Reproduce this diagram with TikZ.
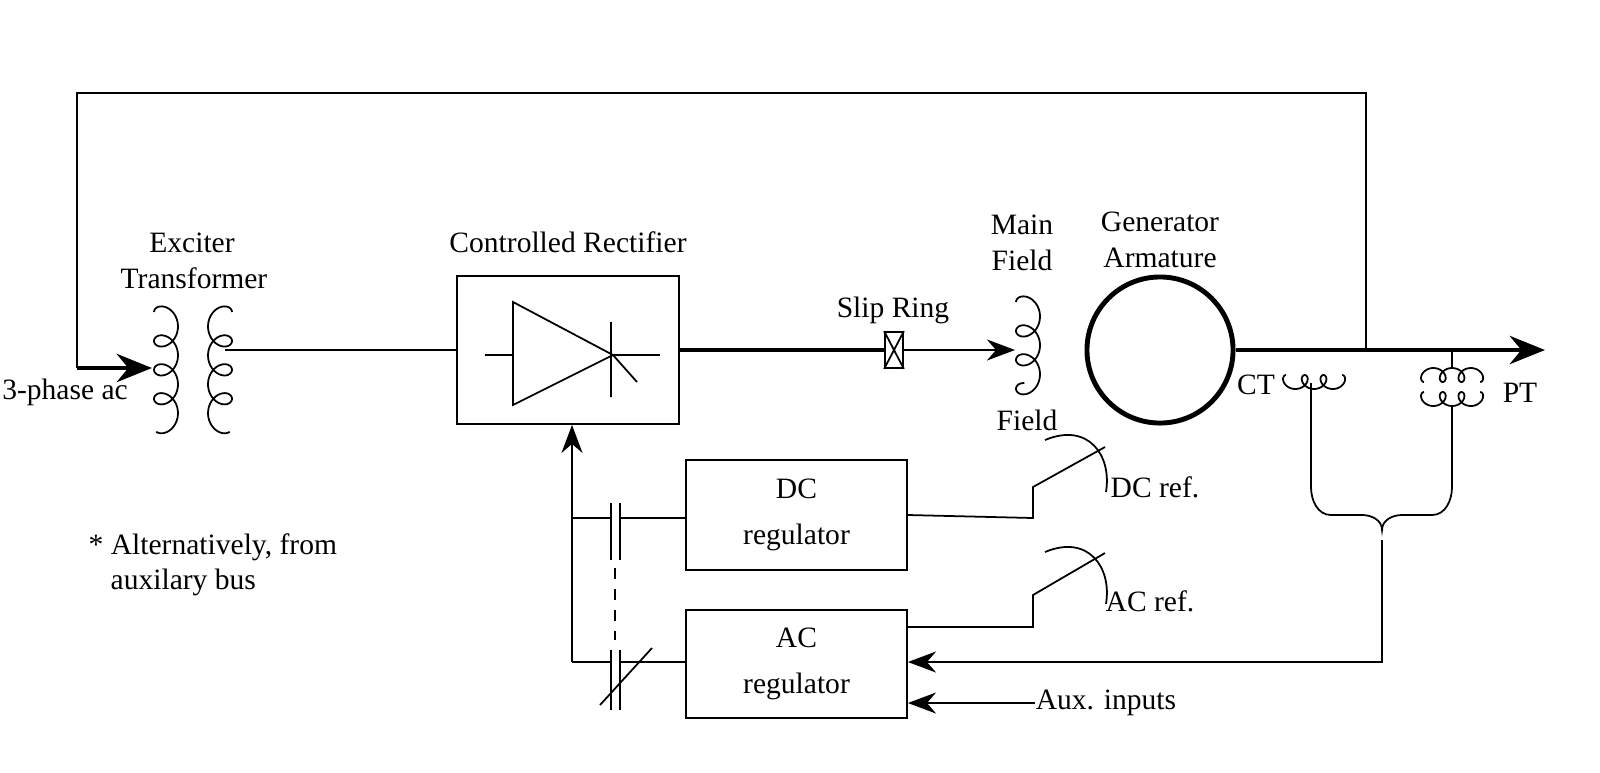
\documentclass[tikz,border=0pt]{standalone}
\usepackage{fontspec}
\setmainfont{Liberation Serif}
\usetikzlibrary{positioning,arrows.meta}
\tikzset{
  lbl/.style={inner sep=0pt,font=\fontsize{8.4}{9}\selectfont},
  blk/.style={draw,line width=0.5pt,inner sep=0pt},
  thick line/.style={line width=1.4pt},
  wire/.style={line width=0.5pt},
}
% vertical coil: x, y top, direction (1 or -1), turns
\newcommand\vcoil[4]{%
  \draw[wire,shift={(#1,#2)},samples=120,domain=0:#4*360]
    plot ({#3*12*cos(\x)},{0.0803*\x-12*sin(\x)});}
% horizontal coil: x left, y, direction, turns
\newcommand\hcoil[4]{%
  \draw[wire,shift={(#1,#2)},samples=90,domain=0:#4*360]
    plot ({0.0520*\x-7*sin(\x)},{#3*7*cos(\x)});}
\begin{document}
\begin{tikzpicture}[x=0.01cm,y=-0.01cm]

    % Define the blocks
    \node[blk,minimum width=2.22cm,minimum height=1.48cm] (rect) at (568,350) {};
    \node[blk,minimum width=2.21cm,minimum height=1.10cm] (dcreg) at (796.5,515) {};
    \node[lbl,align=center] at (dcreg) {DC\\[4pt]regulator};
    \node[blk,minimum width=2.21cm,minimum height=1.08cm] (acreg) at (796.5,664) {};
    \node[lbl,align=center] at (acreg) {AC\\[4pt]regulator};
    \node[draw,circle,line width=1.4pt,minimum size=1.46cm,inner sep=0pt] (gen) at (1160,350) {};
    \node[blk,minimum width=0.18cm,minimum height=0.36cm] (slip) at (894,350) {};
    \draw[wire] (slip.north west) -- (slip.south east) (slip.north east) -- (slip.south west);

    % Labels
    \node[lbl] (extxt) at (192,243) {Exciter};
    \node[lbl] (trtxt) at (194,278) {Transformer};
    \node[lbl] (phase) at (65,392) {3-phase ac};
    \node[lbl] (crtxt) at (568,242) {Controlled Rectifier};
    \node[lbl] (sliptxt) at (893,310) {Slip Ring};
    \node[lbl] (mftxt) at (1022,225) {Main};
    \node[lbl] (mftxt2) at (1022,260) {Field};
    \node[lbl] (fldtxt) at (1027,420) {Field};
    \node[lbl] (gentxt) at (1160,222) {Generator};
    \node[lbl] (armtxt) at (1160,258) {Armature};
    \node[lbl] (cttxt) at (1256,385) {CT};
    \node[lbl] (pttxt) at (1520,393) {PT};
    \node[lbl] (dcref) at (1155,487) {DC ref.};
    \node[lbl] (acref) at (1150,601) {AC ref.};
    \node[lbl] (aux) at (1106,703) {Aux. inputs};
    \node[lbl,anchor=west] (note1) at (88,547) {* Alternatively, from};
    \node[lbl,anchor=west] (note2) at (110,582) {auxilary bus};

    % Coils
    \vcoil{166}{312}{-1}{3.9}
    \vcoil{220}{312}{1}{3.9}
    \vcoil{1028}{302}{-1}{3.2}
    \hcoil{1286}{382}{-1}{3}
    \hcoil{1424}{375}{1}{3}
    \hcoil{1424}{399}{-1}{3}

    \coordinate (prim) at (152,368);
    \coordinate (sec) at (225,350);
    \coordinate (fld) at (1015,350);
    \coordinate (tap) at (1366,350);
    \coordinate (out) at (1545,350);
    \coordinate (ct) at (1311,383);
    \coordinate (pt) at (1452,406);
    \coordinate (bmid) at (1382,540);

    % Rectifier symbol
    \draw[wire] (513,302) -- (613,355) -- (513,405) -- cycle;
    \draw[wire] (485,355) -- (513,355) (613,355) -- (660,355);
    \draw[wire] (611,322) -- (611,397) (613,355) -- (637,382);

    % Draw the main path
    \draw[wire] (tap) |- (77,93) -- (77,368);
    \draw[thick line,-{Stealth[length=10pt,width=8pt]}] (77,368) -- (prim);
    \draw[wire] (sec) -- (rect.west |- sec);
    \draw[thick line] (rect.east) -- (slip.west);
    \draw[wire,-{Stealth[length=8pt,width=6pt]}] (slip.east) -- (fld);
    \draw[thick line,-{Stealth[length=10pt,width=8pt]}] (gen.east) -- (out);

    % CT and PT
    \draw[wire] (ct) -- (1311,487);
    \draw[wire] (1452,350) -- (1452,368);
    \draw[wire] (pt) -- (1452,487);
    \draw[wire] (1311,487) to[out=-90,in=180] (1331,515) -- (1362,515)
      to[out=0,in=90] (1382,530) to[out=90,in=180] (1402,515) -- (1432,515)
      to[out=0,in=-90] (1452,487);
    \draw[wire,-{Stealth[length=8pt,width=6pt]}] (bmid) |- (acreg.east |- 0,662);

    % References
    \draw[wire] (dcreg.east) -- (1033,518) -- (1033,487) -- (1105,447);
    \draw[wire] (1045,440) .. controls (1088,422) and (1112,455) .. (1106,492);
    \draw[wire] (acreg.east |- 0,627) -- (1033,627) -- (1033,595) -- (1105,553);
    \draw[wire] (1045,552) .. controls (1088,534) and (1112,567) .. (1106,604);
    \draw[wire,-{Stealth[length=8pt,width=6pt]}] (aux.west) -- (acreg.east |- aux.west);

    % Feedback to rectifier
    \coordinate (fb) at (572,662);
    \draw[wire,-{Stealth[length=8pt,width=6pt]}] (fb) -- (rect.south -| fb);
    \draw[wire] (572,518) -- (611,518) (620,518) -- (dcreg.west |- 0,518);
    \draw[wire] (611,503) -- (611,560) (620,503) -- (620,560);
    \draw[wire,dashed] (615,568) -- (615,640);
    \draw[wire] (fb) -- (611,662) (620,662) -- (acreg.west |- fb);
    \draw[wire] (611,650) -- (611,710) (620,650) -- (620,710);
    \draw[wire] (600,705) -- (652,648);

    \pgfresetboundingbox
    \useasboundingbox (0,0) rectangle (1600,772);
\end{tikzpicture}
\end{document}
